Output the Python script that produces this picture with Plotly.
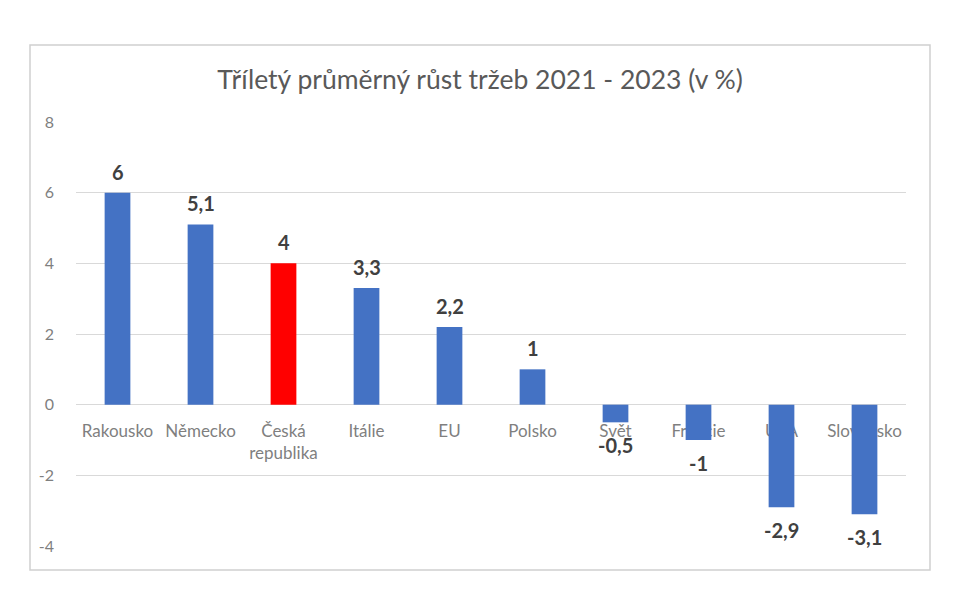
import plotly.graph_objects as go

# ── Data ──────────────────────────────────────────────────────────────────────
COUNTRIES = ['Rakousko', 'Německo', 'Česká<br>republika', 'Itálie', 'EU',
             'Polsko', 'Svět', 'Francie', 'USA', 'Slovensko']
GROWTH = [6, 5.1, 4, 3.3, 2.2, 1, -0.5, -1, -2.9, -3.1]
HIGHLIGHT = 'Česká<br>republika'
Y_TICKS = [-4, -2, 0, 2, 4, 6, 8]

# ── Style ─────────────────────────────────────────────────────────────────────
FONT = 'Lato, Carlito, sans-serif'
BLUE = '#4472C4'
RED = '#FF0000'
GRID = '#d9d9d9'
TXT = '#7f7f7f'

colors = [RED if c == HIGHLIGHT else BLUE for c in COUNTRIES]
labels = [f'{v:g}'.replace('.', ',') for v in GROWTH]

fig = go.Figure(go.Bar(
    x=COUNTRIES, y=GROWTH,
    marker=dict(color=colors, line=dict(width=0)),
    showlegend=False, hoverinfo='x+y',
))

# value labels a bit away from the bar end, like the Excel original
for c, v, lab in zip(COUNTRIES, GROWTH, labels):
    fig.add_annotation(
        x=c, y=v, text=f'<b>{lab}</b>', showarrow=False,
        yanchor='middle', yshift=21 if v >= 0 else -23,
        font=dict(family=FONT, size=20, color='#404040'),
    )

# page body has an 8px margin -> plot area is placed so it lands at x 76..906, y 122..546
fig.update_layout(
    width=960, height=600,
    margin=dict(t=114, b=62, l=68, r=62),
    plot_bgcolor='white', paper_bgcolor='white',
    font=dict(family=FONT, size=17, color=TXT),
    bargap=0.69,
    title=dict(
        text='Tříletý průměrný růst tržeb 2021 - 2023 (v %)',
        font=dict(family=FONT, size=26.5, color='#595959'),
        x=472 / 960, xref='container', xanchor='center',
        y=1 - 72 / 600, yref='container', yanchor='middle',
    ),
    xaxis=dict(
        type='category', anchor='free', position=4 / 12,
        showgrid=False, showline=False, ticks='',
        layer='below traces', ticklabelstandoff=14,
        tickfont=dict(family=FONT, size=17, color=TXT),
    ),
    yaxis=dict(
        range=[-4, 8], tickvals=Y_TICKS, ticktext=[str(t) for t in Y_TICKS],
        showgrid=True, gridcolor=GRID, gridwidth=1,
        zeroline=True, zerolinecolor=GRID, zerolinewidth=1,
        showline=False, ticks='', ticklabelstandoff=21,
        tickfont=dict(family=FONT, size=16, color=TXT),
    ),
    shapes=[dict(
        type='rect', xref='paper', yref='paper',
        x0=(30 - 76) / 830, x1=(930 - 76) / 830,
        y0=(546 - 570) / 424, y1=(546 - 45) / 424,
        line=dict(color='#d0d0d0', width=1.5), layer='below',
    )],
)

fig.write_html('out.html')
